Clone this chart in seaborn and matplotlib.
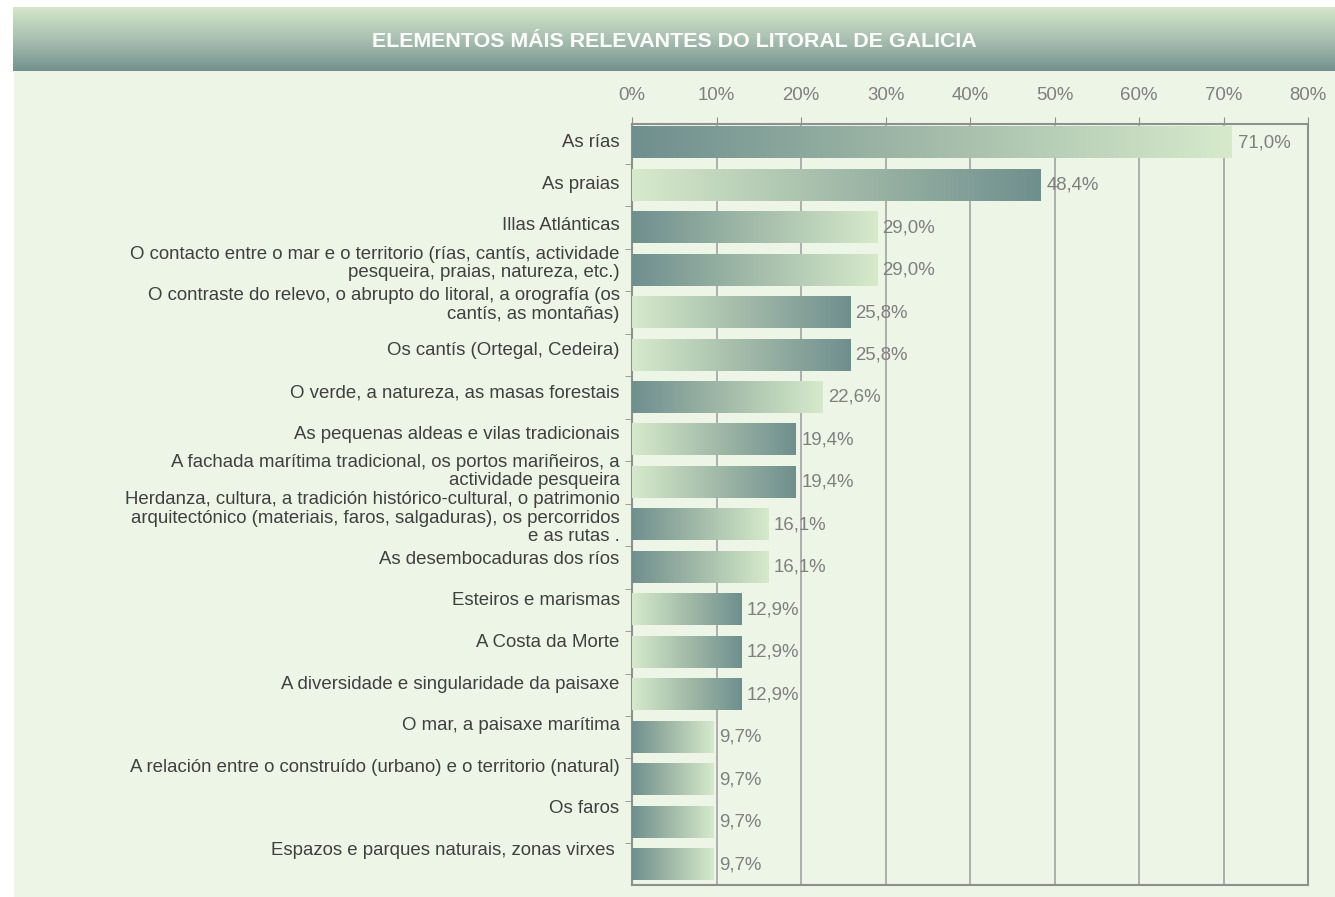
import matplotlib.pyplot as plt
import matplotlib.transforms as mtransforms
from matplotlib.colors import LinearSegmentedColormap
from matplotlib.patches import Rectangle
from matplotlib.ticker import FixedLocator
import numpy as np
import pandas as pd
import seaborn as sns

title = "ELEMENTOS MÁIS RELEVANTES DO LITORAL DE GALICIA"

categories = [
    "As rías",
    "As praias",
    "Illas Atlánticas",
    "O contacto entre o mar e o territorio (rías, cantís, actividade\npesqueira, praias, natureza, etc.)",
    "O contraste do relevo, o abrupto do litoral, a orografía (os\ncantís, as montañas)",
    "Os cantís (Ortegal, Cedeira)",
    "O verde, a natureza, as masas forestais",
    "As pequenas aldeas e vilas tradicionais",
    "A fachada marítima tradicional, os portos mariñeiros, a\nactividade pesqueira",
    "Herdanza, cultura, a tradición histórico-cultural, o patrimonio\narquitectónico (materiais, faros, salgaduras), os percorridos\ne as rutas .",
    "As desembocaduras dos ríos",
    "Esteiros e marismas",
    "A Costa da Morte",
    "A diversidade e singularidade da paisaxe",
    "O mar, a paisaxe marítima",
    "A relación entre o construído (urbano) e o territorio (natural)",
    "Os faros",
    "Espazos e parques naturais, zonas virxes ",
]
values = [71.0, 48.4, 29.0, 29.0, 25.8, 25.8, 22.6, 19.4, 19.4,
          16.1, 16.1, 12.9, 12.9, 12.9, 9.7, 9.7, 9.7, 9.7]
# gradient direction of each bar (True = dark on the left)
dark_left = [True, False, True, True, False, False, True, False, False,
             True, True, False, False, False, True, True, True, True]
x_ticks = [0, 10, 20, 30, 40, 50, 60, 70, 80]

df = pd.DataFrame({"Elemento": categories, "Porcentaxe": values})

plt.rcParams["font.family"] = ["Liberation Sans", "DejaVu Sans"]
FS = 13.4

W, H = 1335, 897
fig = plt.figure(figsize=(W / 100, H / 100), dpi=100)
fig.patch.set_facecolor("white")

# light panel behind the chart
fig.patches.append(Rectangle((14 / W, 0), 1, 1 - 71 / H, transform=fig.transFigure,
                             facecolor="#edf5e7", edgecolor="none", zorder=-5))

# title banner with vertical gradient
ban = fig.add_axes([13 / W, 1 - 71 / H, 1 - 13 / W, 64 / H])
ban_cmap = LinearSegmentedColormap.from_list("ban", ["#d4e7c9", "#a9c0b0", "#72928f"])
ban.imshow(np.linspace(0, 1, 256).reshape(-1, 1), aspect="auto", cmap=ban_cmap,
           extent=[0, 1, 0, 1])
ban.set_axis_off()
ban.text(0.5, 0.46, title, transform=ban.transAxes, ha="center", va="center",
         color="white", fontsize=15.4, fontweight="bold")

ax = fig.add_axes([632 / W, 1 - 885 / H, (1308 - 632) / W, (885 - 124) / H])
ax.set_facecolor("none")
sns.barplot(df, x="Porcentaxe", y="Elemento", orient="h", width=0.73,
            color="#9fb8a8", ax=ax, zorder=3)

bar_cmap = LinearSegmentedColormap.from_list("bar", ["#6f8f8e", "#a3bba9", "#d6eacb"])
grad = np.linspace(0, 1, 256).reshape(1, -1)
for patch, left in zip(ax.patches, dark_left):
    x0, y0 = patch.get_x(), patch.get_y()
    w, h = patch.get_width(), patch.get_height()
    g = grad if left else grad[:, ::-1]
    ax.imshow(g, extent=[x0, x0 + w, y0 + h, y0], aspect="auto", cmap=bar_cmap,
              zorder=3, interpolation="bilinear")
    patch.set_visible(False)

for i, v in enumerate(values):
    ax.annotate(f"{v:.1f}%".replace(".", ","), (v, i), xytext=(4, 0),
                textcoords="offset points", va="center", ha="left",
                color="#7f7f7f", fontsize=FS, zorder=4)

ax.set_xlim(0, 80)
ax.set_ylim(len(values) - 0.52, -0.44)
ax.set_xticks(x_ticks)
ax.set_xticklabels([f"{t}%" for t in x_ticks])
ax.xaxis.tick_top()
ax.set_xlabel("")
ax.set_ylabel("")
ax.grid(axis="x", color="#a8a8a8", linewidth=1.3, zorder=0)
ax.set_axisbelow(True)
for s in ax.spines.values():
    s.set_visible(True)
    s.set_color("#8f8f8f")
    s.set_linewidth(1.5)

ax.tick_params(axis="x", direction="out", length=5, color="#8f8f8f",
               labelcolor="#7f7f7f", labelsize=FS, pad=9.5)
ax.tick_params(axis="y", which="major", length=0, labelcolor="#404040",
               labelsize=FS, pad=9)
ax.yaxis.set_minor_locator(FixedLocator(np.arange(0.5, len(values) - 1, 1)))
ax.tick_params(axis="y", which="minor", direction="out", length=5, color="#8f8f8f")

# category labels sit a little above their bars, more so further down
n = len(values)
for i, lbl in enumerate(ax.get_yticklabels()):
    lbl.set_linespacing(1.12)
    up = 2 + 14 * i / (n - 1)
    if lbl.get_text().count("\n") == 1:
        up += 5
    lbl.set_transform(lbl.get_transform()
                      + mtransforms.ScaledTranslation(0, up / 100, fig.dpi_scale_trans))

fig.savefig("out.png", dpi=100, facecolor=fig.get_facecolor())
